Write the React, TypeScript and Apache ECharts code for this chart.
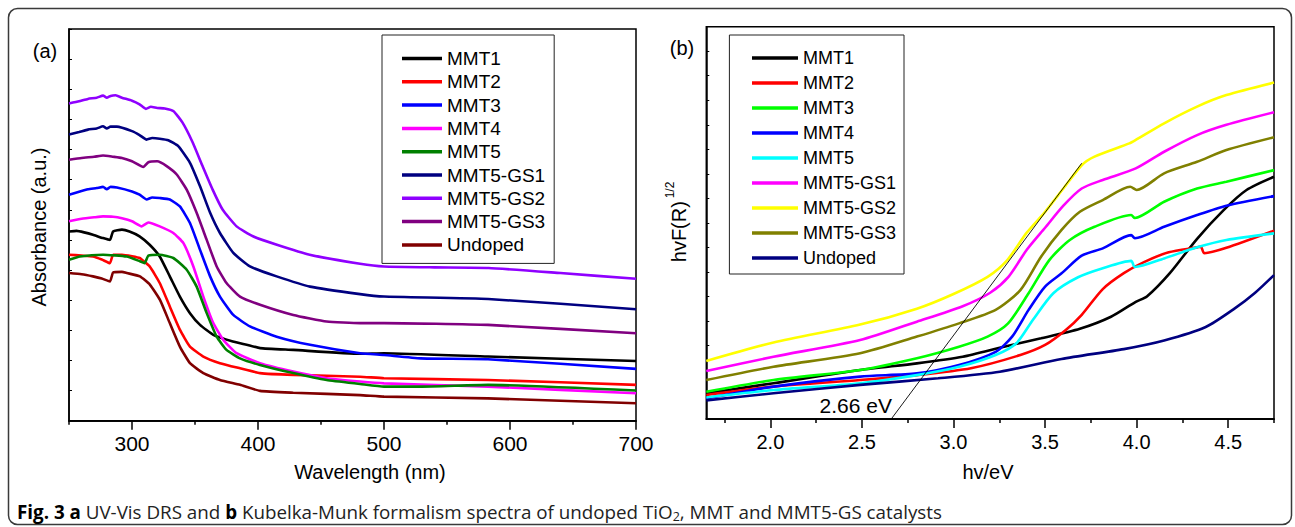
import React, { useEffect, useRef } from "react";
import * as echarts from "echarts";

const FONT = "'Liberation Sans', Arial, Helvetica, sans-serif";

// ---------- Panel (a): UV-Vis DRS ----------
const namesA = ["MMT1", "MMT2", "MMT3", "MMT4", "MMT5", "MMT5-GS1", "MMT5-GS2", "MMT5-GS3", "Undoped"];
const colorsA = ["#000000", "#FF0000", "#0000FF", "#FF00FF", "#008000", "#000080", "#8F00FF", "#800080", "#800000"];

const mmt1A = [[250,6.28],[256,6.3],[262,6.25],[269,6.17],[277,6.06],[282.5,6.0],[285,6.28],[292,6.34],[298,6.28],[306,6.12],[314,5.84],[322,5.45],[330,4.79],[338,4.12],[346,3.57],[354,3.18],[364.5,2.85],[380,2.63],[391,2.52],[401.6,2.41],[428,2.35],[481,2.22],[500,2.24],[582.5,2.13],[700,1.98]];
const mmt2A = [[250,5.51],[260,5.48],[269,5.45],[276,5.35],[282.5,5.23],[285,5.51],[292,5.51],[300,5.46],[306,5.4],[314,5.12],[322,4.57],[330,3.79],[338,3.02],[346,2.46],[356.6,2.13],[369.8,1.91],[385.7,1.74],[401.6,1.58],[428,1.52],[481,1.46],[500,1.41],[582.5,1.35],[700,1.19]];
const mmt3A = [[250,7.5],[258,7.6],[265,7.68],[272,7.72],[277,7.76],[280,7.68],[283,7.76],[288,7.74],[300,7.61],[306,7.5],[311.6,7.34],[316,7.41],[322,7.39],[330,7.34],[338,7.11],[346,6.56],[354,5.67],[362,4.79],[369.8,4.12],[380.4,3.51],[393.6,3.13],[414.8,2.79],[441.3,2.52],[481,2.24],[500,2.18],[529,2.07],[582.5,2.04],[700,1.72]];
const mmt4A = [[250,6.62],[260,6.7],[270,6.75],[277,6.78],[285,6.77],[292,6.72],[300,6.62],[307.7,6.45],[313,6.58],[322,6.45],[332.8,6.23],[340.7,5.9],[348.7,5.12],[356.6,4.12],[364.5,3.24],[372.5,2.68],[383,2.24],[401.6,1.91],[428,1.63],[454.5,1.41],[481,1.3],[500,1.24],[582.5,1.13],[700,0.91]];
const mmt5A = [[250,5.34],[258.7,5.45],[277,5.51],[295.8,5.45],[306.3,5.29],[310,5.23],[313,5.48],[322,5.51],[332.8,5.4],[343.4,5.01],[351.3,4.45],[359.3,3.57],[367.2,2.79],[375,2.35],[385.7,2.07],[401.6,1.85],[428,1.58],[454.5,1.35],[481,1.22],[500,1.13],[529,1.13],[582.5,1.19],[700,1.0]];
const gs1A = [[250,9.5],[258,9.58],[265,9.66],[272,9.7],[277,9.77],[280,9.7],[283,9.76],[288,9.76],[300,9.61],[306,9.48],[311.6,9.33],[316,9.38],[322,9.36],[328.8,9.31],[336.7,9.11],[346,8.56],[354,7.78],[362,6.9],[369.8,6.23],[380.4,5.57],[393.6,5.12],[414.8,4.79],[441.3,4.45],[481,4.2],[500,4.12],[582.7,4.04],[700,3.7]];
const gs2A = [[250,10.53],[258,10.6],[265,10.68],[272,10.72],[277,10.79],[280,10.72],[283,10.78],[287,10.8],[292,10.72],[300,10.62],[306,10.5],[311,10.35],[315,10.42],[320,10.38],[326,10.36],[333,10.27],[340,9.9],[348,9.25],[356,8.45],[364,7.67],[372,7.0],[383,6.45],[396,6.12],[415,5.84],[441,5.51],[481,5.21],[500,5.12],[540,5.09],[583,5.07],[640,4.9],[700,4.71]];
const gs3A = [[250,8.66],[260,8.72],[270,8.76],[277,8.8],[285,8.76],[292,8.72],[300,8.61],[309,8.42],[313,8.58],[320,8.61],[327.5,8.45],[335.5,8.17],[343.4,7.67],[351.3,6.9],[359.3,6.0],[367.2,5.12],[375,4.57],[385.7,4.12],[401.6,3.85],[428,3.51],[454.5,3.29],[481,3.24],[500,3.24],[582.5,3.18],[700,2.9]];
const undopedA = [[250,4.9],[260,4.86],[269,4.79],[276,4.72],[282.5,4.62],[285,4.92],[292,4.94],[296,4.9],[306.3,4.79],[314.3,4.51],[322.2,4.01],[330,3.24],[338,2.46],[346,1.91],[356.6,1.58],[369.8,1.35],[385.7,1.19],[401.6,0.99],[428,0.93],[481,0.85],[500,0.8],[582.5,0.74],[700,0.58]];
const dataA = [mmt1A, mmt2A, mmt3A, mmt4A, mmt5A, gs1A, gs2A, gs3A, undopedA];

const xMajorA = [300, 400, 500, 600, 700];
const xMinorA = [250, 350, 450, 550, 650];

// ---------- Panel (b): Kubelka-Munk ----------
const namesB = ["MMT1", "MMT2", "MMT3", "MMT4", "MMT5", "MMT5-GS1", "MMT5-GS2", "MMT5-GS3", "Undoped"];
const colorsB = ["#000000", "#FF0000", "#00FF00", "#0000FF", "#00FFFF", "#FF00FF", "#FFFF00", "#808000", "#000080"];

const mmt1B = [[1.65,1.05],[2.017,1.46],[2.49,2.0],[2.8,2.27],[3.05,2.54],[3.276,2.95],[3.478,3.29],[3.69,3.68],[3.86,4.17],[3.995,4.78],[4.056,5.0],[4.18,5.94],[4.33,7.35],[4.475,8.52],[4.6,9.34],[4.75,9.88]];
const mmt2B = [[1.65,0.98],[2.017,1.32],[2.49,1.59],[2.8,1.79],[3.095,2.07],[3.365,2.61],[3.5,3.02],[3.613,3.63],[3.7,4.25],[3.815,5.3],[3.93,5.95],[4.04,6.4],[4.175,6.8],[4.33,7.0],[4.35,7.03],[4.37,6.76],[4.49,6.98],[4.75,7.68]];
const mmt3B = [[1.65,1.11],[2.017,1.59],[2.49,2.0],[2.8,2.48],[3.03,2.95],[3.186,3.36],[3.298,3.9],[3.41,5.13],[3.523,6.48],[3.635,7.3],[3.77,7.84],[3.97,8.32],[3.99,8.2],[4.15,8.86],[4.33,9.4],[4.49,9.68],[4.75,10.15]];
const mmt4B = [[1.65,0.84],[2.017,1.32],[2.49,1.73],[2.8,1.86],[3.03,2.2],[3.23,2.74],[3.32,3.36],[3.41,4.45],[3.5,5.4],[3.59,5.94],[3.7,6.66],[3.815,6.96],[3.97,7.5],[3.99,7.37],[4.15,7.84],[4.33,8.32],[4.49,8.7],[4.75,9.09]];
const mmt5B = [[1.65,0.88],[2.017,1.18],[2.49,1.46],[2.8,1.79],[3.03,2.13],[3.23,2.61],[3.343,3.09],[3.433,4.04],[3.545,5.13],[3.68,5.78],[3.815,6.15],[3.97,6.45],[3.99,6.2],[4.15,6.55],[4.33,7.0],[4.49,7.3],[4.75,7.57]];
const gs1B = [[1.65,1.96],[2.017,2.54],[2.49,3.22],[2.8,3.97],[3.05,4.6],[3.2,5.15],[3.3,5.8],[3.4,6.9],[3.5,7.8],[3.6,8.7],[3.7,9.4],[3.815,9.75],[3.995,10.22],[4.15,10.9],[4.33,11.58],[4.49,12.0],[4.75,12.51]];
const gs2B = [[1.65,2.37],[2.017,3.12],[2.49,3.85],[2.8,4.5],[3.0,5.1],[3.186,5.8],[3.29,6.45],[3.4,7.6],[3.5,8.45],[3.6,9.4],[3.7,10.35],[3.77,10.7],[3.96,11.24],[3.995,11.38],[4.15,12.06],[4.33,12.74],[4.49,13.21],[4.75,13.72]];
const gs3B = [[1.65,1.59],[2.017,2.13],[2.49,2.68],[2.8,3.36],[3.03,3.9],[3.23,4.45],[3.365,5.26],[3.478,6.62],[3.59,7.71],[3.69,8.45],[3.815,8.93],[3.965,9.47],[4.0,9.34],[4.15,10.02],[4.33,10.49],[4.49,10.97],[4.75,11.49]];
const undopedB = [[1.65,0.76],[2.017,1.05],[2.49,1.39],[2.916,1.66],[3.253,1.93],[3.59,2.45],[3.93,2.85],[4.15,3.2],[4.377,3.75],[4.534,4.5],[4.647,5.15],[4.75,5.87]];
const dataB = [mmt1B, mmt2B, mmt3B, mmt4B, mmt5B, gs1B, gs2B, gs3B, undopedB];

const tangentB = [[2.66, 0], [3.70, 10.43]];
const bandGapLabel = "2.66 eV";

const xMajorB = [2.0, 2.5, 3.0, 3.5, 4.0, 4.5];
const xMinorB = [1.75, 2.25, 2.75, 3.25, 3.75, 4.25, 4.75];

const captionRich =
  "{b|Fig. 3 a}{n| UV-Vis DRS and }{b|b}{n| Kubelka-Munk formalism spectra of undoped TiO}{s|2}{n|, MMT and MMT5-GS catalysts}";

function buildOption(): any {
  const axisLine = { show: true, lineStyle: { color: "#000", width: 1.5 } };
  const tickLabel = (size: number) => ({ color: "#000", fontFamily: FONT, fontSize: size });

  const xAxis = [
    { gridIndex: 0, type: "value", min: 250, max: 700, position: "bottom", axisLine,
      axisTick: { show: true, customValues: xMinorA, length: 4, lineStyle: { color: "#000", width: 1.5 } },
      axisLabel: { show: false }, splitLine: { show: false } },
    { gridIndex: 0, type: "value", min: 250, max: 700, position: "bottom", axisLine,
      axisTick: { show: true, customValues: xMajorA, length: 9, lineStyle: { color: "#000", width: 1.5 } },
      axisLabel: { show: true, customValues: xMajorA, margin: 12, ...tickLabel(21) }, splitLine: { show: false } },
    { gridIndex: 1, type: "value", min: 1.65, max: 4.75, position: "bottom", axisLine,
      axisTick: { show: true, customValues: xMinorB, length: 4, lineStyle: { color: "#000", width: 1.5 } },
      axisLabel: { show: false }, splitLine: { show: false } },
    { gridIndex: 1, type: "value", min: 1.65, max: 4.75, position: "bottom", axisLine,
      axisTick: { show: true, customValues: xMajorB, length: 9, lineStyle: { color: "#000", width: 1.5 } },
      axisLabel: { show: true, customValues: xMajorB, margin: 13, formatter: (v: number) => v.toFixed(1), ...tickLabel(20) },
      splitLine: { show: false } },
  ];

  const yAxis = [
    { gridIndex: 0, type: "value", min: 0, max: 13, interval: 1, axisLine,
      axisTick: { show: true, inside: true, length: 3, lineStyle: { color: "#000", width: 1 } },
      axisLabel: { show: false }, splitLine: { show: false } },
    { gridIndex: 1, type: "value", min: 0, max: 16, interval: 1, axisLine,
      axisTick: { show: true, inside: true, length: 3, lineStyle: { color: "#000", width: 1 } },
      axisLabel: { show: false }, splitLine: { show: false } },
  ];

  const seriesA = namesA.map((n, i) => ({
    name: n, type: "line", xAxisIndex: 1, yAxisIndex: 0, data: dataA[i],
    showSymbol: false, symbol: "none", silent: true, smooth: 0.15,
    lineStyle: { color: colorsA[i], width: 2.6 }, itemStyle: { color: colorsA[i] },
  }));
  const seriesB = namesB.map((n, i) => ({
    name: n, type: "line", xAxisIndex: 3, yAxisIndex: 1, data: dataB[i],
    showSymbol: false, symbol: "none", silent: true, smooth: 0.25,
    lineStyle: { color: colorsB[i], width: 2.6 }, itemStyle: { color: colorsB[i] },
  }));
  const tangent = {
    type: "line", xAxisIndex: 3, yAxisIndex: 1, data: tangentB, showSymbol: false, symbol: "none",
    silent: true, lineStyle: { color: "#000", width: 0.9 }, z: 5,
  };

  const legendBase = {
    orient: "vertical", icon: "rect", selectedMode: false, backgroundColor: "#fff",
    borderColor: "#222", borderWidth: 1, itemStyle: { borderWidth: 0 },
  };

  const legend = [
    { ...legendBase, left: 382, top: 35, padding: [14, 9, 9, 20], itemWidth: 40, itemHeight: 3.5, itemGap: 4.3,
      textStyle: { color: "#000", fontFamily: FONT, fontSize: 19, lineHeight: 19 },
      data: namesA.map((n, i) => ({ name: n, itemStyle: { color: colorsA[i], borderWidth: 0 } })) },
    { ...legendBase, left: 729.4, top: 35, padding: [14, 8, 7, 22.6], itemWidth: 46, itemHeight: 3.5, itemGap: 7,
      textStyle: { color: "#000", fontFamily: FONT, fontSize: 18, lineHeight: 18 },
      data: namesB.map((n, i) => ({ name: n, itemStyle: { color: colorsB[i], borderWidth: 0 } })) },
  ];

  const txt = (text: string, x: number, y: number, size: number, extra: any = {}) => ({
    type: "text", x, y, silent: true, ...extra,
    style: { text, fill: "#000", fontFamily: FONT, fontSize: size, align: "center", verticalAlign: "middle", ...(extra.style || {}) },
  });

  const capFont = "'Open Sans', 'Noto Sans', sans-serif";
  const capSize = 18.8;

  const graphic = [
    { type: "rect", silent: true, z: -10, shape: { x: 8.5, y: 8.5, width: 1283, height: 516, r: 9 },
      style: { fill: "none", stroke: "#3a3a3a", lineWidth: 1.5 } },
    txt("(a)", 45, 51, 20),
    txt("(b)", 682, 48, 20),
    txt("Wavelength (nm)", 370, 472, 20),
    txt("hv/eV", 988, 472, 20),
    { ...txt("Absorbance (a.u.)", 39, 227, 20), rotation: Math.PI / 2 },
    { ...txt("hvF(R)", 679, 231.7, 20), rotation: Math.PI / 2 },
    { ...txt("1/2", 670, 190, 12), rotation: Math.PI / 2 },
    { type: "text", x: 892, y: 405, silent: true,
      style: { text: bandGapLabel, fill: "#000", fontFamily: FONT, fontSize: 21, align: "right", verticalAlign: "middle" } },
    { type: "text", x: 17, y: 512, silent: true,
      style: { text: captionRich, fill: "#000", fontFamily: capFont, fontSize: capSize,
        align: "left", verticalAlign: "middle",
        rich: {
          b: { fontWeight: "bold", fontSize: capSize, fontFamily: capFont, fill: "#000", lineHeight: 22 },
          n: { fontSize: capSize, fontFamily: capFont, fill: "#222", lineHeight: 22 },
          s: { fontSize: 12.5, fontFamily: capFont, fill: "#222", lineHeight: 22, verticalAlign: "bottom", padding: [9, 0, 0, 0] },
        } } },
  ];

  return {
    animation: false,
    backgroundColor: "#fff",
    grid: [
      { left: 69, top: 29, width: 567, height: 391.7, show: true, borderColor: "#000", borderWidth: 1.5, backgroundColor: "transparent" },
      { left: 706.3, top: 26.7, width: 567.7, height: 392.3, show: true, borderColor: "#000", borderWidth: 1.5, backgroundColor: "transparent" },
    ],
    xAxis, yAxis, legend, graphic,
    series: [...seriesA, ...seriesB, tangent],
  };
}

export default function App() {
  const ref = useRef<HTMLDivElement>(null);
  useEffect(() => {
    if (!ref.current) return;
    const chart = echarts.init(ref.current, null, { renderer: "svg" });
    chart.setOption(buildOption());
    return () => chart.dispose();
  }, []);
  return (
    <div
      ref={ref}
      style={{ position: "fixed", left: 0, top: 0, width: 1295, height: 527, background: "#fff" }}
    />
  );
}
